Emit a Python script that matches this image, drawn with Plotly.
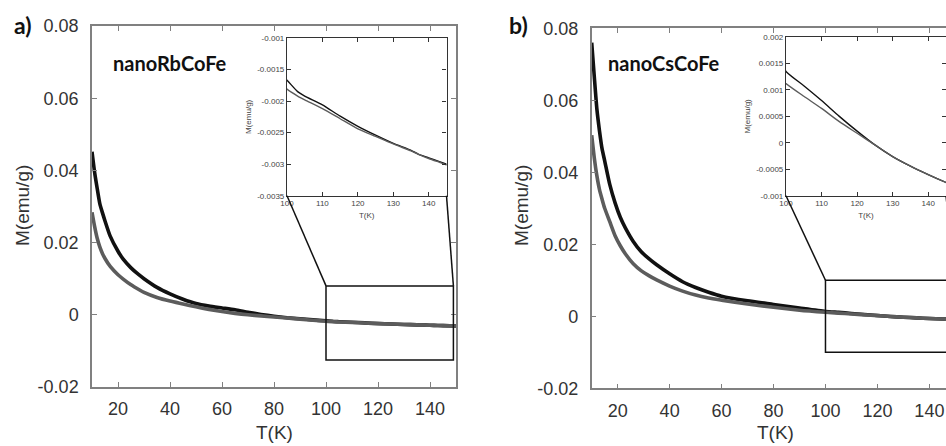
import plotly.graph_objects as go

# ---- data ----
# panel a) nanoRbCoFe
T_a = [10, 11, 12, 13, 14, 15, 17, 20, 22, 25, 28, 30, 35, 40, 45, 50, 55, 60, 65, 70, 75, 80, 85, 90, 95,
       100, 103, 105, 110, 115, 120, 125, 130, 135, 137, 140, 143, 145, 150]
M_a_black = [0.0452, 0.0395, 0.0350, 0.0308, 0.0283, 0.0260, 0.0218, 0.0176, 0.0154, 0.0130, 0.0111, 0.0100,
             0.0076, 0.0058, 0.0043, 0.0031, 0.0024, 0.0019, 0.0014, 0.0007, 0.0001, -0.0004, -0.0008, -0.0011,
             -0.0014, -0.00167, -0.00185, -0.00192, -0.00206, -0.00224, -0.00240, -0.00254, -0.00267, -0.00278,
             -0.00284, -0.00290, -0.00296, -0.00300, -0.00310]
M_a_gray = [0.0284, 0.0245, 0.0212, 0.0188, 0.0170, 0.0156, 0.0134, 0.0111, 0.0099, 0.0083, 0.0070, 0.0062,
            0.0048, 0.0038, 0.0030, 0.0022, 0.0015, 0.0009, 0.0004, 0.0000, -0.0003, -0.0006, -0.0009, -0.0012,
            -0.0015, -0.00181, -0.00192, -0.00198, -0.00212, -0.00228, -0.00244, -0.00256, -0.00268, -0.00279,
            -0.00284, -0.00291, -0.00297, -0.00301, -0.00310]

# panel b) nanoCsCoFe
T_b = [10, 11, 12, 13, 14, 15, 17, 19, 21, 23, 26, 29, 32, 35, 40, 45, 50, 55, 60, 70, 80, 90,
       100, 105, 110, 115, 120, 125, 130, 135, 140, 145, 150]
M_b_black = [0.0760, 0.0665, 0.0575, 0.0515, 0.0465, 0.0432, 0.0365, 0.0315, 0.0275, 0.0245, 0.0208, 0.0180,
             0.0160, 0.0143, 0.0118, 0.0096, 0.0080, 0.0067, 0.0056, 0.0043, 0.0033, 0.0023,
             0.00135, 0.00108, 0.00080, 0.00050, 0.00022, -0.00004, -0.00026, -0.00044, -0.00060, -0.00075, -0.0009]
M_b_gray = [0.0503, 0.0440, 0.0390, 0.0352, 0.0325, 0.0300, 0.0262, 0.0224, 0.0196, 0.0173, 0.0146, 0.0127,
            0.0113, 0.0101, 0.0084, 0.0070, 0.0059, 0.0051, 0.0045, 0.0034, 0.0025, 0.0017,
            0.00112, 0.00088, 0.00065, 0.00040, 0.00018, -0.00004, -0.00026, -0.00044, -0.00060, -0.00075, -0.0009]

x_ticks = [20, 40, 60, 80, 100, 120, 140]
y_ticks = [-0.02, 0, 0.02, 0.04, 0.06, 0.08]
y_ticktext = ['-0.02', '0', '0.02', '0.04', '0.06', '0.08']
inset_x_ticks = [100, 110, 120, 130, 140]
inset_a_y_ticks = [-0.0035, -0.003, -0.0025, -0.002, -0.0015, -0.001]
inset_a_y_text = ['-0.0035', '-0.003', '-0.0025', '-0.002', '-0.0015', '-0.001']
inset_b_y_ticks = [-0.001, -0.0005, 0, 0.0005, 0.001, 0.0015, 0.002]
inset_b_y_text = ['-0.001', '-0.0005', '0', '0.0005', '0.001', '0.0015', '0.002']

W, H = 946, 446
BLACK = '#111111'
GRAY = '#5c5c5c'
FONT = 'Liberation Sans, Arial, sans-serif'


def dx(p):
    return p / W


def dy(p):
    return 1 - p / H


# domains (paper) and ranges
A_main_x, A_main_y = [dx(92), dx(456)], [dy(387), dy(26)]
A_in_x, A_in_y = [dx(287), dx(446.5)], [dy(195.7), dy(38)]
B_main_x, B_main_y = [dx(591.7), 1.0], [dy(388.3), dy(28.3)]
B_in_x, B_in_y = [dx(786), 1.0], [dy(195.7), dy(37)]
A_xr, A_yr = [10, 150], [-0.02, 0.08]
B_xr, B_yr = [10, 146.4], [-0.02, 0.08]
In_xr = [100, 145]
A_in_yr = [-0.0035, -0.001]
B_in_yr = [-0.001, 0.002]


def to_paper(v, rng, dom):
    return dom[0] + (v - rng[0]) / (rng[1] - rng[0]) * (dom[1] - dom[0])


fig = go.Figure()

for xa, ya, T, mb, mg, w in [('x', 'y', T_a, M_a_black, M_a_gray, 3.6),
                             ('x2', 'y2', T_a, M_a_black, M_a_gray, 1.4),
                             ('x3', 'y3', T_b, M_b_black, M_b_gray, 3.6),
                             ('x4', 'y4', T_b, M_b_black, M_b_gray, 1.4)]:
    fig.add_trace(go.Scatter(x=T, y=mb, mode='lines', line=dict(color=BLACK, width=w, shape='spline', smoothing=0.6),
                             xaxis=xa, yaxis=ya, showlegend=False, hoverinfo='skip'))
    fig.add_trace(go.Scatter(x=T, y=mg, mode='lines', line=dict(color=GRAY, width=w, shape='spline', smoothing=0.6),
                             xaxis=xa, yaxis=ya, showlegend=False, hoverinfo='skip'))

main_ax = dict(showline=True, linecolor='#808080', linewidth=1.5, ticks='inside', ticklen=5, tickwidth=1.2,
               tickcolor='#808080', showgrid=False, zeroline=False, automargin=False,
               tickfont=dict(family=FONT, size=18, color='#333333'))
inset_ax = dict(showline=True, linecolor='#333333', linewidth=1.2, ticks='inside', ticklen=4, tickwidth=1,
                tickcolor='#333333', showgrid=False, zeroline=False, mirror='ticks', automargin=False,
                tickfont=dict(family=FONT, size=8, color='#444444'),
                title_font=dict(family=FONT, size=8, color='#444444'))

fig.update_layout(
    width=W, height=H, margin=dict(l=0, r=0, t=0, b=0, autoexpand=False),
    paper_bgcolor='white', plot_bgcolor='white',
    xaxis=dict(main_ax, domain=A_main_x, range=A_xr, tickvals=x_ticks, mirror='ticks', anchor='y',
               ticklabelstandoff=5),
    yaxis=dict(main_ax, domain=A_main_y, range=A_yr, tickvals=y_ticks, ticktext=y_ticktext, mirror='ticks',
               anchor='x', ticklabelstandoff=8),
    xaxis2=dict(inset_ax, domain=A_in_x, range=In_xr, tickvals=inset_x_ticks, anchor='y2',
                title=dict(text='T(K)', standoff=4)),
    yaxis2=dict(inset_ax, domain=A_in_y, range=A_in_yr, tickvals=inset_a_y_ticks, ticktext=inset_a_y_text,
                anchor='x2', title=dict(text='M(emu/g)', standoff=4)),
    xaxis3=dict(main_ax, domain=B_main_x, range=B_xr, tickvals=x_ticks, mirror='ticks', anchor='y3',
                ticklabelstandoff=5),
    yaxis3=dict(main_ax, domain=B_main_y, range=B_yr, tickvals=y_ticks, ticktext=y_ticktext, mirror=False,
                anchor='x3', ticklabelstandoff=8),
    xaxis4=dict(inset_ax, domain=B_in_x, range=In_xr, tickvals=inset_x_ticks, anchor='y4',
                title=dict(text='T(K)', standoff=4)),
    yaxis4=dict(inset_ax, domain=B_in_y, range=B_in_yr, tickvals=inset_b_y_ticks, ticktext=inset_b_y_text,
                anchor='x4', title=dict(text='M(emu/g)', standoff=4)),
)

# zoom boxes and connectors
box_a = dict(x0=100, x1=149, y0=-0.0125, y1=0.008)
box_b = dict(x0=100, x1=150, y0=-0.01, y1=0.01)
fig.add_shape(type='rect', xref='x', yref='y', line=dict(color=BLACK, width=1.5), **box_a)
fig.add_shape(type='rect', xref='x3', yref='y3', line=dict(color=BLACK, width=1.5), **box_b)

for box, xr, yr, xd, yd, ixd, iyd in [(box_a, A_xr, A_yr, A_main_x, A_main_y, A_in_x, A_in_y),
                                      (box_b, B_xr, B_yr, B_main_x, B_main_y, B_in_x, B_in_y)]:
    top = to_paper(box['y1'], yr, yd)
    for side, ix in [('x0', ixd[0]), ('x1', ixd[1])]:
        fig.add_shape(type='line', xref='paper', yref='paper', x0=ix, y0=iyd[0],
                      x1=to_paper(box[side], xr, xd), y1=top, line=dict(color=BLACK, width=1.5))

# main axis titles
title_font = dict(family=FONT, size=19, color='#333333')
for xc, yc, txt, ang in [(22, 206, 'M(emu/g)', -90), (274, 432, 'T(K)', 0),
                         (521, 206, 'M(emu/g)', -90), (775, 432, 'T(K)', 0)]:
    fig.add_annotation(text=txt, x=dx(xc), y=dy(yc), xref='paper', yref='paper', xanchor='center',
                       yanchor='middle', textangle=ang, showarrow=False, font=title_font)

# panel labels
lab_font = dict(family='Lato, sans-serif', size=23, color='#111')
name_font = dict(family='Lato, sans-serif', size=20, color='#111')
for xc, yc, txt, f in [(12, 25, '<b>a)</b>', lab_font), (507, 25, '<b>b)</b>', lab_font),
                       (111, 63, '<b>nanoRbCoFe</b>', name_font), (606, 63, '<b>nanoCsCoFe</b>', name_font)]:
    fig.add_annotation(text=txt, x=dx(xc), y=dy(yc), xref='paper', yref='paper', xanchor='left',
                       yanchor='middle', showarrow=False, font=f)

# the page's default body margin would shift the figure by 8px
fig.write_html('out.html', config={'displayModeBar': False},
               post_script="document.body.style.margin='0px';document.body.style.overflow='hidden';")
